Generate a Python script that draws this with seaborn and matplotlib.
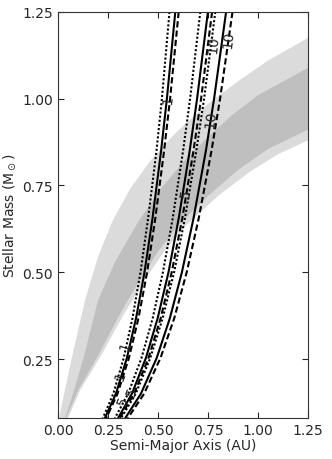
import numpy as np
import pandas as pd
import seaborn as sns
import matplotlib
matplotlib.use('Agg')
import matplotlib.pyplot as plt

# stellar mass levels where the contour positions were read (M_sun)
mass = [1.25, 1.0, 0.85, 0.655, 0.5, 0.368, 0.253, 0.15, 0.08]

# semi-major axis (AU) of each contour at those masses
age1_dotted = [0.557, 0.519, 0.492, 0.45, 0.412, 0.372, 0.328, 0.276, 0.224]
age1_solid = [0.586, 0.544, 0.515, 0.472, 0.432, 0.39, 0.344, 0.289, 0.234]
age1_dashed = [0.603, 0.56, 0.53, 0.486, 0.445, 0.402, 0.354, 0.297, 0.241]
age5_dotted = [0.711, 0.66, 0.625, 0.573, 0.524, 0.473, 0.417, 0.35, 0.284]
age5_solid = [0.749, 0.695, 0.658, 0.603, 0.552, 0.498, 0.439, 0.369, 0.30]
age5_dashed = [0.77, 0.715, 0.677, 0.621, 0.568, 0.513, 0.452, 0.38, 0.308]
age10_dotted = [0.786, 0.73, 0.691, 0.634, 0.58, 0.523, 0.461, 0.388, 0.315]
age10_solid = [0.84, 0.78, 0.739, 0.677, 0.619, 0.559, 0.493, 0.414, 0.336]
age10_dashed = [0.872, 0.81, 0.767, 0.703, 0.643, 0.581, 0.512, 0.43, 0.349]

# habitable zone edges (AU, M_sun): light = optimistic, dark = conservative
light_in_x = [0.005, 0.03, 0.075, 0.135, 0.2, 0.27, 0.36, 0.46, 0.585, 0.75, 0.9, 1.05, 1.25]
light_in_m = [0.08, 0.15, 0.27, 0.42, 0.545, 0.645, 0.74, 0.82, 0.9, 0.985, 1.05, 1.11, 1.175]
light_out_x = [0.05, 0.11, 0.215, 0.32, 0.425, 0.53, 0.64, 0.8, 0.96, 1.1, 1.25]
light_out_m = [0.08, 0.16, 0.26, 0.37, 0.47, 0.56, 0.635, 0.72, 0.79, 0.84, 0.88]
dark_in_x = [0.035, 0.08, 0.135, 0.2, 0.285, 0.4, 0.52, 0.63, 0.75, 0.875, 1.0, 1.25]
dark_in_m = [0.08, 0.16, 0.27, 0.42, 0.53, 0.645, 0.745, 0.82, 0.89, 0.955, 1.01, 1.089]
dark_out_x = [0.04, 0.1, 0.2, 0.3, 0.4, 0.5, 0.6, 0.75, 0.9, 1.05, 1.25]
dark_out_m = [0.08, 0.16, 0.26, 0.37, 0.47, 0.56, 0.635, 0.72, 0.795, 0.855, 0.911]

# contour labels
label_text = ['1', '10', '10', '10', '5', '1', '1', '5', '5']
label_x = [0.55, 0.775, 0.85, 0.765, 0.64, 0.335, 0.31, 0.325, 0.37]
label_m = [1.0, 1.158, 1.172, 0.943, 0.727, 0.29, 0.204, 0.132, 0.158]
label_rot = [84, 84, 84, 82, 80, 72, 70, 68, 68]

lines = {
    ('1', 'dotted'): age1_dotted, ('1', 'solid'): age1_solid, ('1', 'dashed'): age1_dashed,
    ('5', 'dotted'): age5_dotted, ('5', 'solid'): age5_solid, ('5', 'dashed'): age5_dashed,
    ('10', 'dotted'): age10_dotted, ('10', 'solid'): age10_solid, ('10', 'dashed'): age10_dashed,
}
rows = []
for (age, kind), xs in lines.items():
    for x, m in zip(xs, mass):
        rows.append({'a': x, 'M': m, 'line': age + kind, 'kind': kind})
df = pd.DataFrame(rows)

sns.set_style('ticks')
fig = plt.figure(figsize=(3.32, 4.6), dpi=100)
ax = fig.add_axes([0.175, 0.089, 0.753, 0.883])

ax.fill(np.r_[light_in_x, light_out_x[::-1]], np.r_[light_in_m, light_out_m[::-1]],
        color='0.86', lw=0, zorder=1)
ax.fill(np.r_[dark_in_x, dark_out_x[::-1]], np.r_[dark_in_m, dark_out_m[::-1]],
        color='0.75', lw=0, zorder=1)

sns.lineplot(data=df, x='a', y='M', units='line', estimator=None, sort=False,
             style='kind', dashes={'solid': '', 'dashed': (3, 1.5), 'dotted': (1, 1)},
             color='k', lw=1.5, legend=False, ax=ax, zorder=2)

for s, x, m, r in zip(label_text, label_x, label_m, label_rot):
    ax.text(x, m, s, rotation=r, ha='center', va='center', fontsize=10, zorder=3)

ax.set_xlim(0, 1.25)
ax.set_ylim(0.08, 1.25)
ax.set_xticks([0, 0.25, 0.5, 0.75, 1.0, 1.25])
ax.set_yticks([0.25, 0.5, 0.75, 1.0, 1.25])
ax.xaxis.set_major_formatter(matplotlib.ticker.FormatStrFormatter('%.2f'))
ax.yaxis.set_major_formatter(matplotlib.ticker.FormatStrFormatter('%.2f'))
ax.tick_params(direction='in', top=True, right=True, length=4, width=0.8, labelsize=10)
for sp in ax.spines.values():
    sp.set_linewidth(0.8)
    sp.set_color('0.2')
ax.set_xlabel('Semi-Major Axis (AU)', fontsize=10, labelpad=1)
ax.set_ylabel('Stellar Mass (M$_\\odot$)', fontsize=10, labelpad=3)

fig.savefig('out.png', dpi=100)
